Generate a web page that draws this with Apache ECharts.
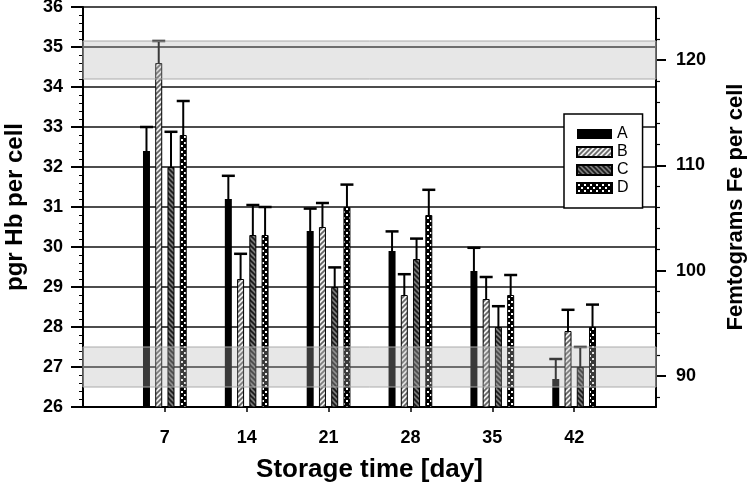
<!DOCTYPE html>
<html>
<head>
<meta charset="utf-8">
<script src="https://cdn.jsdelivr.net/npm/echarts@6/dist/echarts.min.js"></script>
<style>
  html, body { margin: 0; padding: 0; background: #fff; }
  #chart { width: 750px; height: 491px; }
</style>
</head>
<body>
<div id="chart"></div>
<script>
// storage days (tick labels), blank slots pad the axis to 0 and 49
const xTicks = ["", "7", "14", "21", "28", "35", "42", ""];
const groupNames = ["A", "B", "C", "D"];

// pgr Hb per cell, mean values
const meanA = [32.4, 31.2, 30.4, 29.9, 29.4, 26.7];
const meanB = [34.6, 29.2, 30.5, 28.8, 28.7, 27.9];
const meanC = [32.0, 30.3, 29.0, 29.7, 28.0, 27.0];
const meanD = [32.8, 30.3, 31.0, 30.8, 28.8, 28.0];
// upper error bar lengths
const errA = [0.6, 0.58, 0.56, 0.49, 0.58, 0.5];
const errB = [0.55, 0.63, 0.6, 0.52, 0.55, 0.53];
const errC = [0.88, 0.75, 0.49, 0.51, 0.52, 0.5];
const errD = [0.85, 0.7, 0.56, 0.63, 0.5, 0.56];

// reference ranges (shaded bands), pgr Hb
const bandLow = [26.5, 27.5];
const bandHigh = [34.2, 35.15];

// right axis: femtograms Fe, same span as 26..36 pgr
const feMin = 87.04;
const feMax = 125.03;
const feLabels = [90, 100, 110, 120];
const feMinor = [88, 92, 94, 96, 98, 102, 104, 106, 108, 112, 114, 116, 118, 122, 124];

const means = [meanA, meanB, meanC, meanD];
const errs = [errA, errB, errC, errD];

const BAR_W = 7;
const BAR_GAP = 0.75;
const step = BAR_W * (1 + BAR_GAP);
const offsets = groupNames.map((_, i) => (i - 1.5) * step);

function makePattern(size, draw) {
  const c = document.createElement("canvas");
  c.width = size;
  c.height = size;
  draw(c.getContext("2d"), size);
  return { image: c, repeat: "repeat" };
}

const patB = makePattern(5, (ctx, s) => {
  ctx.fillStyle = "#f0f0f0";
  ctx.fillRect(0, 0, s, s);
  ctx.strokeStyle = "#666";
  ctx.lineWidth = 1.7;
  ctx.beginPath();
  ctx.moveTo(-1, s + 1); ctx.lineTo(s + 1, -1);
  ctx.moveTo(-1, 1); ctx.lineTo(1, -1);
  ctx.moveTo(s - 1, s + 1); ctx.lineTo(s + 1, s - 1);
  ctx.stroke();
});
const patC = makePattern(5, (ctx, s) => {
  ctx.fillStyle = "#7a7a7a";
  ctx.fillRect(0, 0, s, s);
  ctx.strokeStyle = "#1a1a1a";
  ctx.lineWidth = 1.6;
  ctx.beginPath();
  ctx.moveTo(-1, -1); ctx.lineTo(s + 1, s + 1);
  ctx.moveTo(s - 1, -1); ctx.lineTo(s + 1, 1);
  ctx.moveTo(-1, s - 1); ctx.lineTo(1, s + 1);
  ctx.stroke();
});
const patD = makePattern(6, (ctx, s) => {
  ctx.fillStyle = "#000";
  ctx.fillRect(0, 0, s, s);
  ctx.fillStyle = "#fff";
  ctx.fillRect(1, 1, 2, 2);
  ctx.fillRect(4, 4, 2, 2);
});

const fills = ["#000", patB, patC, patD];

const font = "'Liberation Sans', Arial, sans-serif";

const barSeries = groupNames.map((name, i) => ({
  name: name,
  type: "bar",
  barWidth: BAR_W,
  barGap: BAR_GAP * 100 + "%",
  itemStyle: { color: fills[i], borderColor: "#000", borderWidth: i === 0 ? 0 : 1 },
  data: ["-"].concat(means[i], ["-"]),
  z: 2
}));

const errData = [];
means.forEach((arr, s) => {
  arr.forEach((v, k) => errData.push([k + 1, v, errs[s][k], s]));
});

const myChart = echarts.init(document.getElementById("chart"));
const options = {
  animation: false,
  textStyle: { fontFamily: font },
  grid: { left: 83, right: 94, top: 7, bottom: 84, outerBoundsMode: "none" },
  legend: {
    data: groupNames,
    orient: "vertical",
    left: 564,
    top: 114,
    padding: [12, 14, 12, 12],
    itemWidth: 35,
    itemHeight: 10,
    itemGap: 2,
    borderColor: "#000",
    borderWidth: 1.5,
    backgroundColor: "#fff",
    icon: "rect",
    textStyle: { fontSize: 16, color: "#000" },
    z: 20
  },
  xAxis: {
    type: "category",
    data: xTicks,
    boundaryGap: false,
    name: "Storage time [day]",
    nameLocation: "middle",
    nameGap: 50,
    nameTextStyle: { fontSize: 26, fontWeight: "bold", color: "#000" },
    axisLine: { lineStyle: { color: "#000", width: 2 } },
    axisTick: {
      interval: (i) => i > 0 && i < xTicks.length - 1,
      length: 5,
      lineStyle: { color: "#000", width: 1.5 }
    },
    axisLabel: { fontSize: 18, fontWeight: "bold", color: "#000", margin: 22, interval: 0 },
    splitLine: { show: false }
  },
  yAxis: [
    {
      type: "value",
      min: 26,
      max: 36,
      interval: 1,
      name: "pgr Hb per cell",
      nameLocation: "middle",
      nameGap: 56,
      nameTextStyle: { fontSize: 24, fontWeight: "bold", color: "#000" },
      axisLine: { show: true, lineStyle: { color: "#000", width: 2 } },
      axisTick: { show: true, length: 12, lineStyle: { color: "#000", width: 2 } },
      minorTick: { show: true, splitNumber: 5, length: 4, lineStyle: { color: "#000", width: 1 } },
      axisLabel: { fontSize: 18, fontWeight: "bold", color: "#000", margin: 20 },
      splitLine: { show: true, lineStyle: { color: "#111", width: 1.5 } }
    },
    {
      type: "value",
      position: "right",
      min: feMin,
      max: feMax,
      name: "Femtograms Fe per cell",
      nameLocation: "middle",
      nameGap: 69,
      nameTextStyle: { fontSize: 22, fontWeight: "bold", color: "#000" },
      axisLine: { show: true, lineStyle: { color: "#000", width: 2 } },
      axisTick: { show: true, length: 10, customValues: feLabels, lineStyle: { color: "#000", width: 2 } },
      axisLabel: { fontSize: 18, fontWeight: "bold", color: "#000", margin: 20, customValues: feLabels },
      splitLine: { show: false }
    },
    {
      type: "value",
      position: "right",
      min: feMin,
      max: feMax,
      axisLine: { show: false },
      axisTick: { show: true, length: 4, customValues: feMinor, lineStyle: { color: "#000", width: 1.2 } },
      axisLabel: { show: false },
      splitLine: { show: false }
    }
  ],
  series: barSeries.concat([
    {
      name: "err",
      type: "custom",
      z: 6,
      encode: { x: 0, y: 1 },
      data: errData,
      renderItem: function (params, api) {
        const cat = api.value(0);
        const val = api.value(1);
        const err = api.value(2);
        const s = api.value(3);
        const base = api.coord([cat, val]);
        const top = api.coord([cat, val + err]);
        const x = base[0] + offsets[s];
        return {
          type: "group",
          children: [
            { type: "line", shape: { x1: x, y1: base[1], x2: x, y2: top[1] }, style: { stroke: "#000", lineWidth: 2 } },
            { type: "line", shape: { x1: x - 6.5, y1: top[1], x2: x + 6.5, y2: top[1] }, style: { stroke: "#000", lineWidth: 2.5 } }
          ]
        };
      },
      markArea: {
        silent: true,
        z: 8,
        itemStyle: { color: "rgba(181,181,181,0.32)", borderColor: "#aaa", borderWidth: 1 },
        data: [
          [{ yAxis: bandLow[0] }, { yAxis: bandLow[1] }],
          [{ yAxis: bandHigh[0] }, { yAxis: bandHigh[1] }]
        ]
      }
    }
  ])
};
myChart.setOption(options);
</script>
</body>
</html>
